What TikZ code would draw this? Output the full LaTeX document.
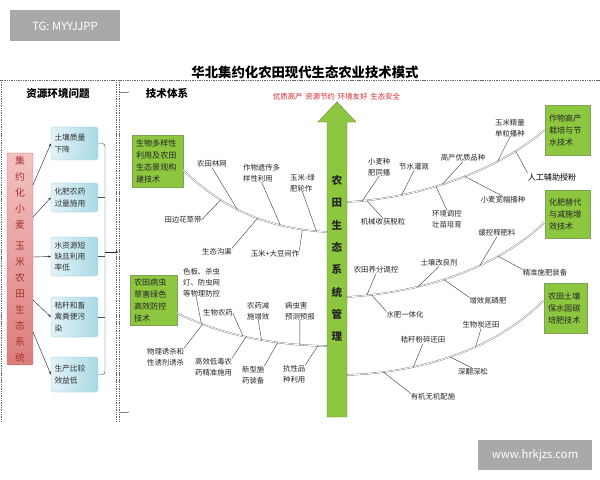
\documentclass[tikz,border=0pt]{standalone}
\usepackage{fontspec}
\newfontfamily\cjk{Noto Sans CJK SC}
\usetikzlibrary{arrows.meta}
\definecolor{leaf}{HTML}{8DC63F}
\definecolor{leafdark}{HTML}{5E8C2A}
\definecolor{roseL}{HTML}{F4C2C2}
\definecolor{roseR}{HTML}{DC7C7C}
\definecolor{rosedark}{HTML}{A83232}
\definecolor{aquaL}{HTML}{E2F3F8}
\definecolor{aquaR}{HTML}{A9D9E6}
\definecolor{aqualine}{HTML}{8FC3D1}
\definecolor{wmgray}{HTML}{A9A9A9}
\definecolor{slogan}{HTML}{D8262A}
\tikzset{
  lbl/.style={font=\cjk\fontsize{10.5}{15.5}\selectfont, align=left, inner sep=0pt, text=black!85},
  bone/.style={draw=black!80, line width=0.55pt},
  spine/.style={draw=black!55, double=white, line width=0.5pt, double distance=1.2pt},
  frame/.style={draw=black!60, line width=0.7pt, dash pattern=on 1.5pt off 1pt},
  probbox/.style={draw=aqualine, rounded corners=2.5pt, left color=aquaL, right color=aquaR,
    text width=2.0cm, inner xsep=0.175cm, align=left, text=black!80,
    font=\cjk\fontsize{11}{16}\selectfont},
  techbox/.style={draw=leafdark!80, fill=leaf, line width=0.5pt, align=left, text=black!85,
    inner xsep=0.2cm, font=\cjk\fontsize{11.5}{17}\selectfont},
  sysbox/.style={draw=rosedark!80, rounded corners=2pt, top color=roseL, bottom color=roseR,
    minimum width=1.3cm, minimum height=10.6cm, align=center, text=rosedark,
    font=\cjk\fontsize{14}{22.7}\selectfont},
  head/.style={font=\cjk\bfseries\fontsize{15}{18}\selectfont, inner sep=0pt},
  wm/.style={fill=wmgray, text=white, font=\cjk\fontsize{16}{18}\selectfont},
  link/.style={draw=black!85, line width=0.6pt, -{Stealth[length=4pt,width=3pt]}},
}
\begin{document}
\begin{tikzpicture}[x=0.05cm,y=-0.05cm]
\useasboundingbox[fill=white] (0,0) rectangle (600,480);

% watermarks and title
\node[wm, minimum width=5.55cm, minimum height=1.55cm] (tg) at (65,26) {TG: MYYJJPP};
\node[wm, minimum width=5.7cm, minimum height=1.5cm] (site) at (535,455) {www.hrkjzs.com};
\node[head, font=\cjk\bfseries\fontsize{19}{22}\selectfont] (title) at (305,72) {华北集约化农田现代生态农业技术模式};

% frames
\draw[frame] (0,80) -- (600,80);
\draw[frame] (1.5,80) -- (1.5,421);
\draw[frame] (116,80) -- (116,421);
\draw[frame] (119,80) -- (119,421);
\coordinate (tech) at (118.5,252);

% problems
\node[head] (probhead) at (58,93) {资源环境问题};
\node[sysbox] (sys) at (20,259) {集\\约\\化\\小\\麦\\[8pt]玉\\米\\农\\田\\生\\态\\系\\统};
\node[probbox, minimum height=1.65cm] (b1) at (74.5,143.5) {土壤质量\\下降};
\node[probbox, minimum height=1.45cm] (b2) at (74.5,197.5) {化肥农药\\过量施用};
\node[probbox, minimum height=1.95cm] (b3) at (74.5,256.5) {水资源短\\缺且利用\\率低};
\node[probbox, minimum height=2.0cm] (b4) at (74.5,317) {秸秆和畜\\禽粪便污\\染};
\node[probbox, minimum height=1.75cm] (b5) at (74.5,374.5) {生产比较\\效益低};
\coordinate (r1) at (33,185);
\coordinate (r2) at (33,217);
\coordinate (r3) at (33,257);
\coordinate (r4) at (33,300);
\coordinate (r5) at (33,332);
\draw[link] (r1) -- (b1.west);
\draw[link] (r2) -- (b2.west);
\draw[link] (r3) -- (b3.west);
\draw[link] (r4) -- (b4.west);
\draw[link] (r5) -- (b5.west);
\coordinate (brk) at (105,252);
\draw[black!70, line width=0.7pt, rounded corners=4pt] (b1.east) -| (brk) |- (b5.east);
\draw[black!70, line width=0.7pt] (b2.east) -- (b2.east -| brk);
\draw[black!70, line width=0.7pt] (b3.east) -- (b3.east -| brk);
\draw[black!70, line width=0.7pt] (b4.east) -- (b4.east -| brk);
\draw[link] (brk) -- (tech);

% techniques
\node[head] (techhead) at (167,93) {技术体系};
\draw[black!50, line width=0.4pt, -{Stealth[length=2pt,width=2pt]}] (120,92) -- (129,92);
\draw[black!50, line width=0.4pt, -{Stealth[length=2pt,width=2pt]}] (120,412) -- (129,412);
\node[font=\cjk\fontsize{10.5}{12}\selectfont, text=slogan, inner sep=0pt] (goals) at (336.5,97)
  {优质高产\hspace{0.4em}资源节约\hspace{0.4em}环境友好\hspace{0.4em}生态安全};
\draw[fill=leaf, draw=leafdark, line width=0.6pt] (327,417) -- (327,122) -- (318,122) -- (337,102)
  -- (356,122) -- (347,122) -- (347,417) -- cycle;
\node[font=\cjk\bfseries\fontsize{15}{31.7}\selectfont, align=center, text=black!85] (axis) at (337,258.5)
  {农\\田\\生\\态\\系\\统\\管\\理};
\coordinate (axL1) at (327,232);
\coordinate (axL2) at (327,346);
\coordinate (axR1) at (347,202);
\coordinate (axR2) at (347,297);
\coordinate (axR3) at (347,375);

\node[techbox, text width=2.15cm, minimum height=2.6cm] (techA) at (157.5,161) {生物多样性\\利用及农田\\生态景观构\\建技术};
\node[techbox, text width=1.95cm, minimum height=2.5cm] (techB) at (153.5,300) {农田病虫\\草害绿色\\高效防控\\技术};
\node[techbox, text width=1.85cm, minimum height=2.5cm] (techC) at (567.5,130) {作物高产\\栽培与节\\水技术};
\node[techbox, text width=1.85cm, minimum height=2.4cm] (techD) at (567.5,214) {化肥替代\\与减施增\\效技术};
\node[techbox, text width=1.75cm, minimum height=2.5cm] (techE) at (565.5,308) {农田土壤\\保水固碳\\培肥技术};

% spines
\draw[spine] (techA.-20) .. controls (215,200) and (255,228) ..
  coordinate[pos=.35] (ulb1) coordinate[pos=.48] (ula1) coordinate[pos=.62] (ulb2)
  coordinate[pos=.76] (ula2) coordinate[pos=.88] (ulb3) coordinate[pos=.95] (ula3) (axL1);
\draw[spine] (techB.-29) .. controls (215,332) and (265,345) ..
  coordinate[pos=.2] (lla1) coordinate[pos=.5] (lla2) coordinate[pos=.62] (lla3) coordinate[pos=.85] (lla4)
  coordinate[pos=.21] (llb1) coordinate[pos=.52] (llb2) coordinate[pos=.72] (llb3) coordinate[pos=.95] (llb4) (axL2);
\draw[spine] (axR1) .. controls (420,198) and (495,172) ..
  coordinate[pos=.07] (ura1) coordinate[pos=.25] (ura2) coordinate[pos=.44] (ura3) coordinate[pos=.72] (ura4)
  coordinate[pos=.82] (ura5) coordinate[pos=.09] (urb1) coordinate[pos=.41] (urb2) coordinate[pos=.55] (urb3) (techC.west);
\draw[spine] (axR2) .. controls (430,292) and (500,265) ..
  coordinate[pos=.08] (mra1) coordinate[pos=.3] (mra2) coordinate[pos=.6] (mra3)
  coordinate[pos=.1] (mrb1) coordinate[pos=.42] (mrb2) coordinate[pos=.7] (mrb3) (techD.200);
\draw[spine] (axR3) .. controls (430,372) and (500,345) ..
  coordinate[pos=.28] (lra2) coordinate[pos=.58] (lra3)
  coordinate[pos=.15] (lrb1) coordinate[pos=.45] (lrb2) (techE.160);

% upper left bones
\node[lbl] (ul1) at (212,164) {农田林网};
\node[lbl, anchor=west] (ul2) at (243,173) {作物遗传多\\样性利用};
\node[lbl, anchor=west] (ul3) at (290,183) {玉米-绿\\肥轮作};
\node[lbl] (ul4) at (183,220) {田边花草带};
\node[lbl] (ul5) at (217,252) {生态沟渠};
\node[lbl] (ul6) at (275,254) {玉米+大豆间作};
\draw[bone] (ul1.south) -- (ula1);
\draw[bone] (ul2.south) -- (ula2);
\draw[bone] (ul3.south) -- (ula3);
\draw[bone] (ul4.east) -- (ulb1);
\draw[bone] (ul5.north east) -- (ulb2);
\draw[bone] (ul6.north east) -- (ulb3);

% lower left bones
\node[lbl, anchor=west] (ll1) at (183,283) {色板、杀虫\\灯、防虫网\\等物理防控};
\node[lbl] (ll2) at (218,313) {生物农药};
\node[lbl, anchor=west] (ll3) at (247,311) {农药减\\施增效};
\node[lbl, anchor=west] (ll4) at (285,311) {病虫害\\预测预报};
\node[lbl, anchor=west] (ll5) at (147,357) {物理诱杀和\\性诱剂诱杀};
\node[lbl, anchor=west] (ll6) at (195,367) {高效低毒农\\药精准施用};
\node[lbl, anchor=west] (ll7) at (242,375) {新型施\\药装备};
\node[lbl, anchor=west] (ll8) at (283,374) {抗性品\\种利用};
\draw[bone] (ll1.250) -- (lla1);
\draw[bone] (ll2.east) -- (lla2);
\draw[bone] (ll3.south) -- (lla3);
\draw[bone] (ll4.south) -- (lla4);
\draw[bone] (ll5.north east) -- (llb1);
\draw[bone] (ll6.north east) -- (llb2);
\draw[bone] (ll7.north east) -- (llb3);
\draw[bone] (ll8.north east) -- (llb4);

% upper right bones
\node[lbl, anchor=west] (ur1) at (368,167) {小麦种\\肥同播};
\node[lbl] (ur2) at (414,167) {节水灌溉};
\node[lbl] (ur3) at (463,158) {高产优质品种};
\node[lbl, anchor=west] (ur4) at (495,128) {玉米精量\\单粒播种};
\node[lbl, font=\cjk\fontsize{11.5}{14}\selectfont, text=black] (ur5) at (552,177) {人工辅助授粉};
\node[lbl] (ur6) at (503,200) {小麦宽幅播种};
\node[lbl, anchor=west] (ur7) at (432,219) {环境调控\\壮苗培育};
\node[lbl] (ur8) at (383,222) {机械收获脱粒};
\draw[bone] (ur1.south) -- (ura1);
\draw[bone] (ur2.south) -- (ura2);
\draw[bone] (ur3.south) -- (ura3);
\draw[bone] (ur4.south) -- (ura4);
\draw[bone] (ur5.north west) -- (ura5);
\draw[bone] (ur6.north) -- (urb3);
\draw[bone] (ur7.north) -- (urb2);
\draw[bone] (ur8.north) -- (urb1);

% middle right bones
\node[lbl] (mr1) at (376,270) {农田养分调控};
\node[lbl] (mr2) at (439,263) {土壤改良剂};
\node[lbl] (mr3) at (497,233) {缓控释肥料};
\node[lbl] (mr4) at (545,273) {精准施肥装备};
\node[lbl] (mr5) at (488,301) {增效氮磷肥};
\node[lbl] (mr6) at (405,315) {水肥一体化};
\draw[bone] (mr1.south) -- (mra1);
\draw[bone] (mr2.south) -- (mra2);
\draw[bone] (mr3.south) -- (mra3);
\draw[bone] (mr4.north west) -- (mrb3);
\draw[bone] (mr5.north west) -- (mrb2);
\draw[bone] (mr6.north west) -- (mrb1);

% lower right bones
\node[lbl] (lr1) at (481,325) {生物炭还田};
\node[lbl] (lr2) at (423,340) {秸秆粉碎还田};
\node[lbl] (lr3) at (473,372) {深翻深松};
\node[lbl] (lr4) at (433,397) {有机无机配施};
\draw[bone] (lr1.south) -- (lra3);
\draw[bone] (lr2.south) -- (lra2);
\draw[bone] (lr3.north) -- (lrb2);
\draw[bone] (lr4.north west) -- (lrb1);
\end{tikzpicture}
\end{document}
